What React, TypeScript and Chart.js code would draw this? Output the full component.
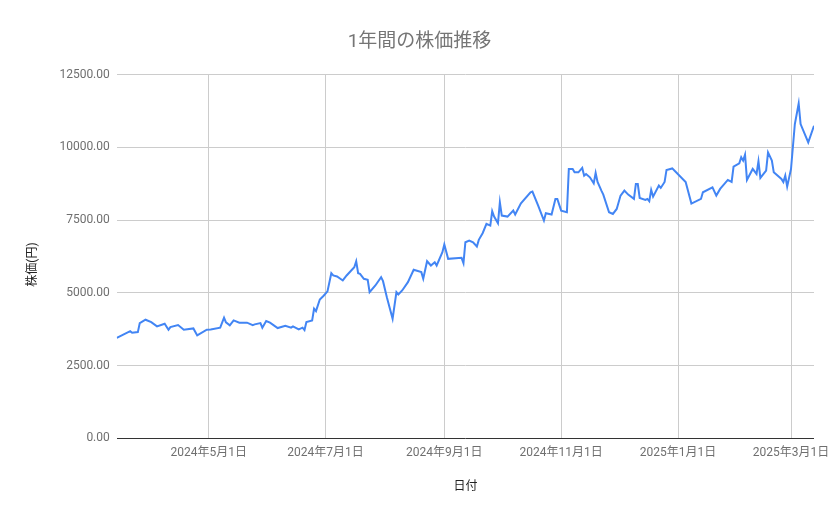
import { useEffect, useRef } from 'react';
import { Chart, registerables } from 'chart.js';

Chart.register(...registerables);

// 日付 (取引日) と株価
const dates = [
  '2024-03-14', '2024-03-21', '2024-03-22', '2024-03-25', '2024-03-26', '2024-03-29',
  '2024-04-01', '2024-04-04', '2024-04-08', '2024-04-10', '2024-04-11', '2024-04-15',
  '2024-04-18', '2024-04-23', '2024-04-25', '2024-04-30', '2024-05-02', '2024-05-07',
  '2024-05-09', '2024-05-10', '2024-05-12', '2024-05-14', '2024-05-17', '2024-05-21',
  '2024-05-24', '2024-05-25', '2024-05-28', '2024-05-29', '2024-05-31', '2024-06-02',
  '2024-06-06', '2024-06-10', '2024-06-13', '2024-06-14', '2024-06-17', '2024-06-19',
  '2024-06-20', '2024-06-21', '2024-06-24', '2024-06-25', '2024-06-26', '2024-06-28',
  '2024-06-30', '2024-07-02', '2024-07-04', '2024-07-05', '2024-07-07', '2024-07-10',
  '2024-07-12', '2024-07-16', '2024-07-17', '2024-07-18', '2024-07-19', '2024-07-21',
  '2024-07-23', '2024-07-24', '2024-07-27', '2024-07-30', '2024-07-31', '2024-08-02',
  '2024-08-05', '2024-08-07', '2024-08-08', '2024-08-10', '2024-08-13', '2024-08-16',
  '2024-08-20', '2024-08-21', '2024-08-23', '2024-08-25', '2024-08-27', '2024-08-28',
  '2024-08-31', '2024-09-01', '2024-09-03', '2024-09-10', '2024-09-11', '2024-09-12',
  '2024-09-14', '2024-09-16', '2024-09-18', '2024-09-19', '2024-09-21', '2024-09-23',
  '2024-09-25', '2024-09-26', '2024-09-27', '2024-09-29', '2024-09-30', '2024-10-01',
  '2024-10-04', '2024-10-07', '2024-10-08', '2024-10-11', '2024-10-16', '2024-10-17',
  '2024-10-20', '2024-10-23', '2024-10-24', '2024-10-27', '2024-10-29', '2024-10-30',
  '2024-11-01', '2024-11-04', '2024-11-05', '2024-11-07', '2024-11-08', '2024-11-10',
  '2024-11-12', '2024-11-13', '2024-11-14', '2024-11-16', '2024-11-18', '2024-11-19',
  '2024-11-20', '2024-11-22', '2024-11-23', '2024-11-26', '2024-11-28', '2024-11-30',
  '2024-12-02', '2024-12-04', '2024-12-06', '2024-12-09', '2024-12-10', '2024-12-11',
  '2024-12-12', '2024-12-15', '2024-12-16', '2024-12-17', '2024-12-18', '2024-12-19',
  '2024-12-22', '2024-12-23', '2024-12-25', '2024-12-26', '2024-12-29', '2024-12-31',
  '2025-01-05', '2025-01-08', '2025-01-13', '2025-01-14', '2025-01-19', '2025-01-21',
  '2025-01-23', '2025-01-27', '2025-01-29', '2025-01-30', '2025-02-02', '2025-02-03',
  '2025-02-04', '2025-02-05', '2025-02-06', '2025-02-09', '2025-02-11', '2025-02-12',
  '2025-02-13', '2025-02-16', '2025-02-17', '2025-02-19', '2025-02-20', '2025-02-24',
  '2025-02-25', '2025-02-26', '2025-02-27', '2025-03-01', '2025-03-03', '2025-03-05',
  '2025-03-06', '2025-03-10', '2025-03-13',
];

const prices = [
  3450, 3685, 3630, 3650, 3960, 4076,
  3994, 3846, 3939, 3733, 3822, 3891,
  3733, 3777, 3537, 3733, 3743, 3801,
  4145, 3985, 3880, 4052, 3973, 3973,
  3891, 3915, 3960, 3801, 4028, 3973,
  3788, 3870, 3801, 3846, 3743, 3801,
  3719, 3994, 4052, 4453, 4371, 4770,
  4900, 5050, 5676, 5597, 5563, 5426,
  5597, 5882, 6088, 5676, 5656, 5484,
  5450, 5024, 5254, 5539, 5402, 4852,
  4110, 5024, 4945, 5082, 5367, 5793,
  5711, 5484, 6088, 5941, 6054, 5941,
  6397, 6662, 6170, 6204, 6020, 6741,
  6799, 6741, 6593, 6822, 7050, 7372,
  7314, 7805, 7623, 7393, 8114, 7657,
  7623, 7829, 7692, 8080, 8458, 8482,
  8001, 7486, 7737, 7692, 8231, 8231,
  7829, 7771, 9261, 9261, 9146, 9146,
  9296, 9031, 9089, 8974, 8767, 9124,
  8813, 8517, 8379, 7771, 7714, 7886,
  8345, 8517, 8379, 8231, 8744, 8744,
  8264, 8195, 8231, 8150, 8539, 8310,
  8688, 8609, 8813, 9227, 9280, 9150,
  8813, 8070, 8231, 8459, 8630, 8345,
  8574, 8884, 8813, 9341, 9455, 9662,
  9547, 9753, 8884, 9261, 9089, 9522,
  8952, 9203, 9832, 9547, 9146, 8918,
  8813, 9031, 8653, 9261, 10807, 11514,
  10807, 10177, 10749,
];

const tickDates = ['2024-05-01', '2024-07-01', '2024-09-01', '2024-11-01', '2025-01-01', '2025-03-01'];
const tickLabels = ['2024年5月1日', '2024年7月1日', '2024年9月1日', '2024年11月1日', '2025年1月1日', '2025年3月1日'];

const yTitle = '株価(円)';

const DAY = 86400000;
const t0 = Date.parse(dates[0]);
const dayOf = (d: string) => (Date.parse(d) - t0) / DAY;

// y軸タイトル (Google風に少し下寄せで描く)
const yTitlePlugin = {
  id: 'yTitle',
  afterDraw(chart: any) {
    const { ctx, chartArea } = chart;
    ctx.save();
    ctx.translate(33, (chartArea.top + chartArea.bottom) / 2 + 8);
    ctx.rotate(-Math.PI / 2);
    ctx.fillStyle = '#222222';
    ctx.font = "12px Roboto, 'Noto Sans CJK JP', sans-serif";
    ctx.textAlign = 'center';
    ctx.textBaseline = 'middle';
    ctx.fillText(yTitle, 0, 0);
    ctx.restore();
  },
};

function App() {
  const chartRef = useRef<HTMLCanvasElement>(null);
  const chartInstance = useRef<Chart | null>(null);

  useEffect(() => {
    if (!chartRef.current) return;
    const ctx = chartRef.current.getContext('2d');
    if (!ctx) return;
    if (chartInstance.current) chartInstance.current.destroy();

    Chart.defaults.font.family = "Roboto, 'Noto Sans CJK JP', sans-serif";

    const tickPos = tickDates.map(dayOf);

    chartInstance.current = new Chart(ctx, {
      type: 'line',
      data: {
        datasets: [
          {
            label: '株価',
            data: dates.map((d, i) => ({ x: dayOf(d), y: prices[i] })),
            borderColor: '#4285f4',
            backgroundColor: '#4285f4',
            borderWidth: 2,
            pointRadius: 0,
            tension: 0,
          },
        ],
      },
      plugins: [yTitlePlugin],
      options: {
        responsive: false,
        animation: false,
        layout: {
          padding: { left: 25, right: 25, top: 0, bottom: 25 },
        },
        plugins: {
          legend: { display: false },
          tooltip: { enabled: false },
          title: {
            display: true,
            text: '1年間の株価推移',
            color: '#757575',
            font: { size: 19, weight: 'normal' },
            padding: { top: 31, bottom: 21 },
          },
        },
        scales: {
          x: {
            type: 'linear',
            min: 0,
            max: dayOf(dates[dates.length - 1]),
            afterBuildTicks: (scale: any) => {
              scale.ticks = tickPos.map((v) => ({ value: v }));
            },
            grid: {
              color: '#cccccc',
              drawTicks: false,
            },
            border: { display: false },
            ticks: {
              autoSkip: false,
              maxRotation: 0,
              padding: 8,
              color: '#6f6f6f',
              font: { size: 12 },
              callback: (_v: any, i: number) => tickLabels[i],
            },
            title: {
              display: true,
              text: '日付',
              color: '#222222',
              font: { size: 12 },
              padding: { top: 11, bottom: 0 },
            },
          },
          y: {
            min: 0,
            max: 12500,
            grid: {
              color: (c: any) => (c.tick && c.tick.value === 0 ? '#333333' : '#cccccc'),
              drawTicks: false,
            },
            border: { display: false },
            ticks: {
              stepSize: 2500,
              padding: 7,
              color: '#6f6f6f',
              font: { size: 12 },
              callback: (v: any) => Number(v).toFixed(2),
            },
            // space is kept here, the visible text is drawn by yTitlePlugin
            title: {
              display: true,
              text: yTitle,
              color: 'rgba(0,0,0,0)',
              font: { size: 12 },
              padding: { top: 0, bottom: 13 },
            },
          },
        },
      },
    });

    return () => {
      if (chartInstance.current) {
        chartInstance.current.destroy();
        chartInstance.current = null;
      }
    };
  }, []);

  return (
    <div style={{ position: 'fixed', left: 0, top: 0, width: 839, height: 519, background: '#fff' }}>
      <canvas ref={chartRef} width={839} height={519}></canvas>
    </div>
  );
}

export default App;
